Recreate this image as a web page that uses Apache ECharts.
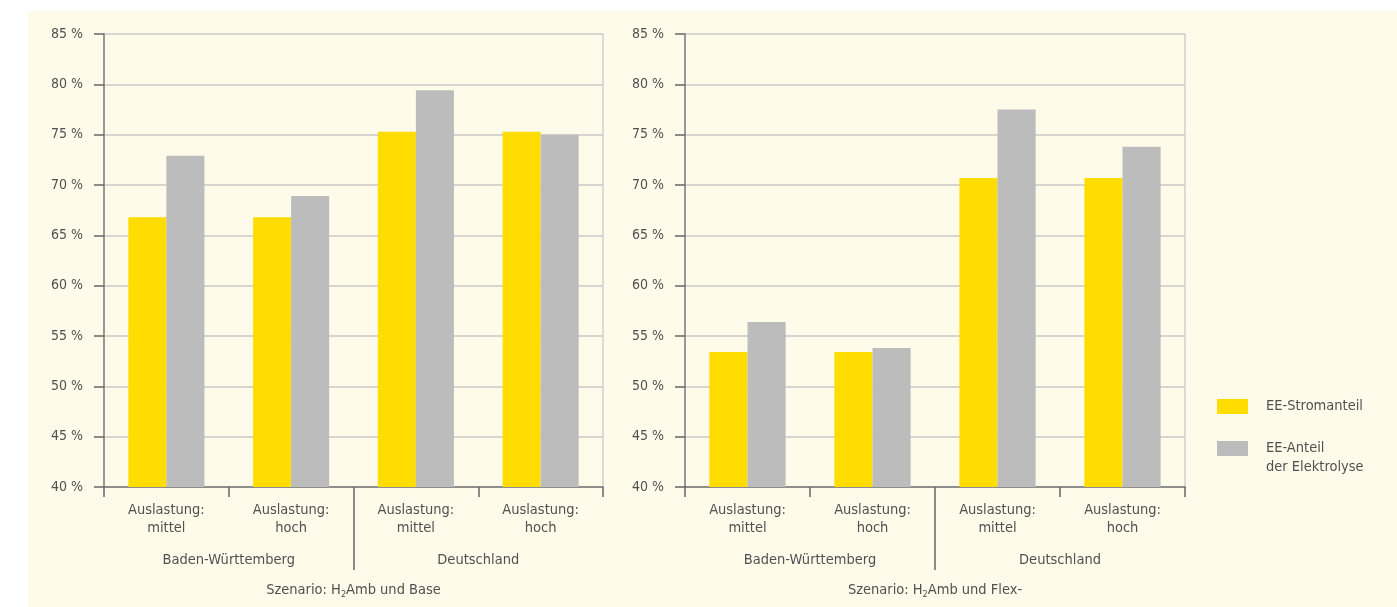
<!DOCTYPE html>
<html>
<head>
<meta charset="utf-8">
<script src="https://cdn.jsdelivr.net/npm/echarts@6/dist/echarts.min.js"></script>
<style>
html,body{margin:0;padding:0;background:#fff;overflow:hidden;}
#bg{position:absolute;left:28px;top:11px;width:1369px;height:596px;background:#fefbea;}
#chart{position:absolute;left:0;top:0;width:1397px;height:607px;}
</style>
</head>
<body>
<div id="bg"></div>
<div id="chart"></div>
<script>
const categories = ['Auslastung:\nmittel', 'Auslastung:\nhoch', 'Auslastung:\nmittel', 'Auslastung:\nhoch'];
const groups = ['Baden-Württemberg', 'Deutschland'];
const seriesNames = ['EE-Stromanteil', 'EE-Anteil\nder Elektrolyse'];
const leftStrom = [66.8, 66.8, 75.3, 75.3];
const leftElektro = [72.9, 68.9, 79.4, 75.0];
const rightStrom = [53.4, 53.4, 70.7, 70.7];
const rightElektro = [56.4, 53.8, 77.5, 73.8];
const scenarioLeft = 'Szenario: H{sub|2}Amb und Base';
const scenarioRight = 'Szenario: H{sub|2}Amb und Flex-';

const FONT = "'Liberation Sans Narrow', 'DejaVu Sans Condensed', 'Roboto', sans-serif";
const TXT = '#505050';
const YELLOW = '#ffdd00';
const GREY = '#bbbcbb';
const FS = 14.5;
const grids = [
  {left: 104, width: 499, top: 34, height: 453},
  {left: 685, width: 500, top: 34, height: 453}
];

const xAxis = [], yAxis = [];
[scenarioLeft, scenarioRight].forEach((scen, g) => {
  xAxis.push({
    type: 'category', gridIndex: g, data: categories,
    axisLine: {lineStyle: {color: '#777', width: 1.5}},
    axisTick: {show: true, interval: 0, length: 10, lineStyle: {color: '#666', width: 1.5}},
    axisLabel: {interval: 0, margin: 14, color: TXT, fontFamily: FONT, fontSize: FS, lineHeight: 18},
    splitLine: {show: false}
  });
  xAxis.push({
    type: 'value', gridIndex: g, min: 0, max: 2, position: 'bottom',
    axisLine: {show: false},
    axisTick: {show: true, customValues: [1], length: 83, lineStyle: {color: '#666', width: 1.5}},
    axisLabel: {customValues: [0.5, 1.5], formatter: v => groups[Math.floor(v)], margin: 66,
      color: TXT, fontFamily: FONT, fontSize: FS},
    splitLine: {show: false},
    name: scen, nameLocation: 'middle', nameGap: 94,
    nameTextStyle: {color: TXT, fontFamily: FONT, fontSize: FS,
      rich: {sub: {fontSize: 9, verticalAlign: 'bottom', padding: [9, 0, 0, 0], color: TXT, fontFamily: FONT}}}
  });
  yAxis.push({
    type: 'value', gridIndex: g, min: 40, max: 85, interval: 5,
    axisLine: {show: true, lineStyle: {color: '#777', width: 1.5}},
    axisTick: {show: true, length: 10, lineStyle: {color: '#666', width: 1.5}},
    axisLabel: {formatter: '{value} %', margin: 21, color: TXT, fontFamily: FONT, fontSize: 14},
    splitLine: {show: true, lineStyle: {color: '#c8c8c8', width: 1.5}}
  });
  yAxis.push({
    type: 'value', gridIndex: g, min: 40, max: 85, interval: 5, position: 'right',
    axisLine: {show: true, lineStyle: {color: '#cfcfcf', width: 1.5}},
    axisTick: {show: false}, axisLabel: {show: false}, splitLine: {show: false}
  });
});

const mk = (name, data, color, g) => ({
  type: 'bar', name, data, xAxisIndex: g * 2, yAxisIndex: g * 2,
  barGap: 0, barCategoryGap: '39%', itemStyle: {color}, silent: true
});

const chart = echarts.init(document.getElementById('chart'));
chart.setOption({
  animation: false,
  grid: grids,
  xAxis, yAxis,
  legend: {
    orient: 'vertical', left: 1217, top: 397, padding: 0, itemWidth: 31, itemHeight: 15, itemGap: 4,
    icon: 'rect', selectedMode: false,
    formatter: name => name.indexOf('\n') >= 0 ? '\u00a0\n' + name : name,
    textStyle: {color: TXT, fontFamily: FONT, fontSize: FS, lineHeight: 19, padding: [0, 0, 0, 13]},
    data: [{name: seriesNames[0]}, {name: seriesNames[1]}]
  },
  series: [
    mk(seriesNames[0], leftStrom, YELLOW, 0),
    mk(seriesNames[1], leftElektro, GREY, 0),
    mk(seriesNames[0], rightStrom, YELLOW, 1),
    mk(seriesNames[1], rightElektro, GREY, 1)
  ]
});
</script>
</body>
</html>
